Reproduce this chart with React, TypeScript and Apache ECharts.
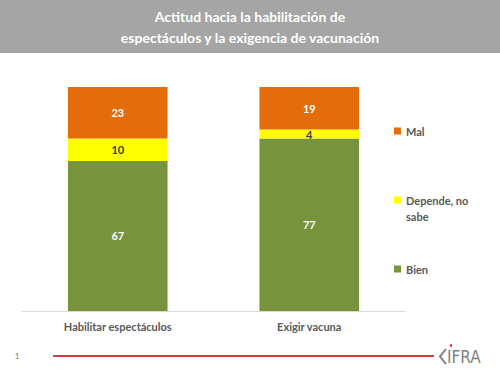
import React, { useEffect, useRef } from "react";
import * as echarts from "echarts";

const categories = ["Habilitar espectáculos", "Exigir vacuna"];
const bien = [67, 77];
const depende = [10, 4];
const mal = [23, 19];

const FONT = "Lato, 'Open Sans', sans-serif";

export default function App() {
  const ref = useRef<HTMLDivElement>(null);
  useEffect(() => {
    if (!ref.current) return;
    const chart = echarts.init(ref.current, undefined, { renderer: "svg" });
    const labelBase = { show: true, position: "inside", fontFamily: FONT, fontWeight: "bold", fontSize: 11 };
    const legendBase = {
      orient: "vertical",
      left: 389,
      itemWidth: 7,
      itemHeight: 7,
      itemGap: 0,
      icon: "rect",
      textStyle: { color: "#595959", fontFamily: FONT, fontWeight: "bold", fontSize: 11, lineHeight: 16 },
    };
    chart.setOption({
      animation: false,
      backgroundColor: "#ffffff",
      title: {
        text: "Actitud hacia la habilitación de\nespectáculos y la exigencia de vacunación",
        left: "center",
        top: 1,
        textStyle: { color: "#ffffff", fontFamily: FONT, fontWeight: "bold", fontSize: 14, lineHeight: 21 },
      },
      legend: [
        { ...legendBase, top: 118, data: ["Mal"] },
        {
          ...legendBase,
          top: 171,
          data: ["Depende, no sabe"],
          formatter: () => "\nDepende, no\nsabe",
        },
        { ...legendBase, top: 256, data: ["Bien"] },
      ],
      grid: { left: 22, right: 95, top: 87, bottom: 64, containLabel: false },
      xAxis: {
        type: "category",
        data: categories,
        axisLine: { lineStyle: { color: "#d9d9d9", width: 1 } },
        axisTick: { show: false },
        axisLabel: { color: "#595959", fontFamily: FONT, fontWeight: "bold", fontSize: 11, margin: 10 },
      },
      yAxis: { type: "value", min: 0, max: 100, show: false, splitLine: { show: false } },
      series: [
        {
          name: "Bien",
          type: "bar",
          stack: "t",
          barWidth: "52%",
          data: bien,
          itemStyle: { color: "#77933C" },
          label: { ...labelBase, color: "#ffffff" },
        },
        {
          name: "Depende, no sabe",
          type: "bar",
          stack: "t",
          data: depende,
          itemStyle: { color: "#FFFF00" },
          label: { ...labelBase, color: "#404040" },
        },
        {
          name: "Mal",
          type: "bar",
          stack: "t",
          data: mal,
          itemStyle: { color: "#E46C0A" },
          label: { ...labelBase, color: "#ffffff" },
        },
      ],
      graphic: [
        { type: "rect", z: -1, shape: { x: 0, y: 0, width: 500, height: 53 }, style: { fill: "#a5a5a5" } },
        { type: "line", shape: { x1: 53, y1: 356, x2: 434, y2: 356 }, style: { stroke: "#c00000", lineWidth: 1.3 } },
        {
          type: "text",
          x: 17,
          y: 356,
          style: { text: "1", fill: "#808080", fontSize: 8, fontFamily: FONT, align: "center", verticalAlign: "middle" },
        },
        {
          type: "polyline",
          shape: { points: [[446, 349], [440, 356.5], [446, 364]] },
          style: { stroke: "#7f7f7f", lineWidth: 2, fill: "none" },
        },
        {
          type: "text",
          x: 447,
          y: 357,
          style: {
            text: "IFRA",
            fill: "#7f7f7f",
            fontSize: 17,
            fontFamily: "'DejaVu Sans Condensed', 'Liberation Sans Narrow', sans-serif",
            verticalAlign: "middle",
          },
        },
        { type: "circle", shape: { cx: 451, cy: 345.5, r: 1.3 }, style: { fill: "#e03030" } },
      ],
    });
    return () => chart.dispose();
  }, []);
  return (
    <div
      ref={ref}
      style={{ position: "fixed", left: 0, top: 0, width: 500, height: 375 }}
    />
  );
}
